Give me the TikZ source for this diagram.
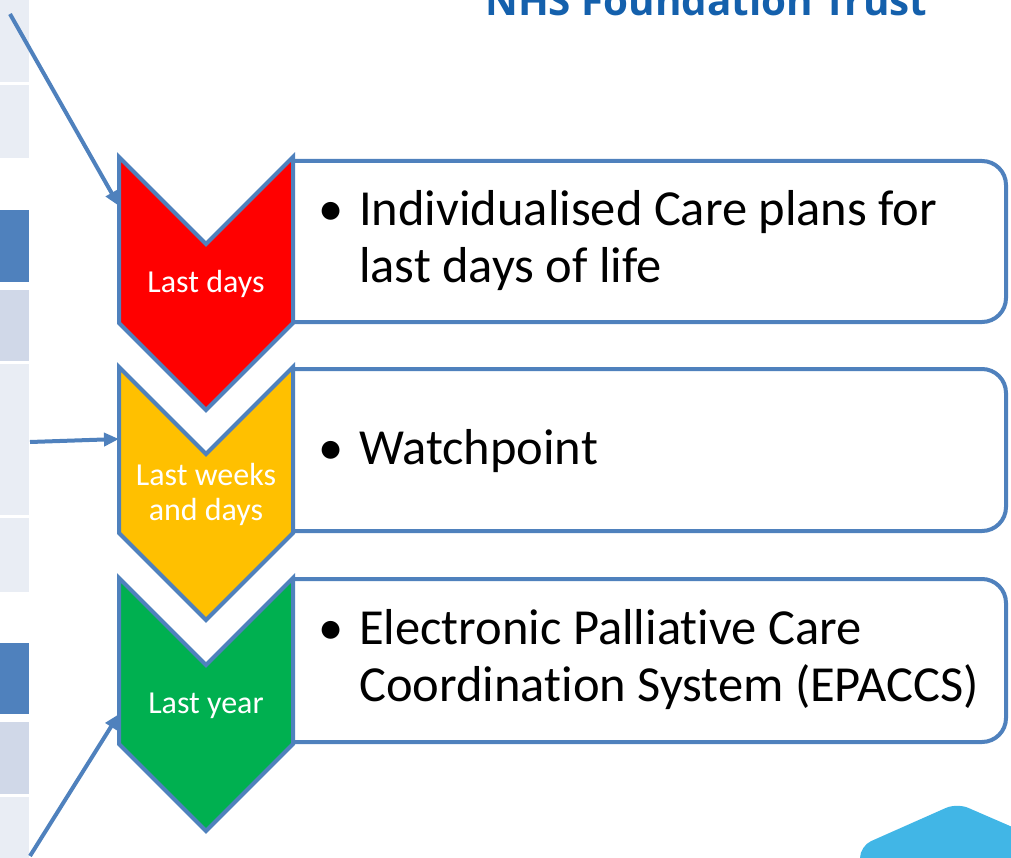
\documentclass[tikz,border=0pt]{standalone}
\usepackage{fontspec}
\setmainfont{Carlito}[Ligatures={NoCommon}]
\newfontfamily\logofont{Open Sans}
\usetikzlibrary{arrows.meta}

\definecolor{edgeblue}{HTML}{4F81BD}
\definecolor{stripdark}{HTML}{4F81BD}
\definecolor{stripmid}{HTML}{D0D8E8}
\definecolor{striplight}{HTML}{E9EDF4}
\definecolor{chevred}{HTML}{FF0000}
\definecolor{chevamber}{HTML}{FFC000}
\definecolor{chevgreen}{HTML}{00B050}
\definecolor{trustblue}{HTML}{1460AC}
\definecolor{cornerblue}{HTML}{41B6E6}

\tikzset{
  chevron/.pic={
    \path[pic actions] (0,0) -- (87,87) -- (174,0) -- (174,166)
      -- (87,253) -- (0,166) -- cycle;
  },
  chevstyle/.style={draw=edgeblue, line width=4pt, line join=miter},
  panel/.style={draw=edgeblue, fill=white, line width=4pt, rounded corners=24pt},
  stagelabel/.style={text=white, font=\fontsize{32}{35}\selectfont, inner sep=0pt},
  itemtext/.style={text=black, font=\fontsize{50.5}{57}\selectfont, inner sep=0pt, anchor=west},
  pointer/.style={draw=edgeblue, line width=4pt,
    -{Triangle[length=15pt,width=13pt]}},
}

\begin{document}
\begin{tikzpicture}[x=1pt,y=-1pt]
\useasboundingbox (0,0) rectangle (1011,858);
\clip (0,0) rectangle (1011,858);

% side strip of table cells
\fill[striplight] (0,0)   rectangle (29,82);
\fill[striplight] (0,85)  rectangle (29,158);
\fill[stripdark]  (0,210) rectangle (29,282);
\fill[stripmid]   (0,290) rectangle (29,361);
\fill[striplight] (0,364) rectangle (29,515);
\fill[striplight] (0,518) rectangle (29,592);
\fill[stripdark]  (0,643) rectangle (29,714);
\fill[stripmid]   (0,722) rectangle (29,794);
\fill[striplight] (0,797) rectangle (29,858);

% trust name at the top
\node[anchor=base west, inner sep=0pt, text=trustblue] (trust) at (485,16)
  {\resizebox{442pt}{!}{\logofont\bfseries NHS Foundation Trust}};

% corner decoration
\fill[cornerblue, rounded corners=12pt] (860,900) -- (860,846) -- (957,803)
  -- (1070,852) -- (1070,900) -- cycle;

% text panels (left edge hidden under the chevrons)
\draw[panel] (293,161) -- (1006,161) -- (1006,322) -- (293,322);
\draw[panel] (293,369) -- (1006,369) -- (1006,531) -- (293,531);
\draw[panel] (293,579) -- (1006,579) -- (1006,742) -- (293,742);

% chevrons
\pic[chevstyle, fill=chevred]   at (119,157) {chevron};
\pic[chevstyle, fill=chevamber] at (119,367) {chevron};
\pic[chevstyle, fill=chevgreen] at (119,578) {chevron};

% stage labels
\node[stagelabel, anchor=base] (daysl) at (206,293) {Last days};
\node[stagelabel] (weeksl) at (206,495.5)
  {\begin{tabular}{@{}c@{}}Last weeks\\and days\end{tabular}};
\node[stagelabel, anchor=base] (yearl) at (206,713) {Last year};

% panel contents
\node[itemtext] (item1) at (318,243)
  {\begin{tabular}{@{}p{41pt}@{}l@{}}•&Individualised Care plans for\\&last days of life\end{tabular}};
\node[itemtext] (item2) at (318,453)
  {\begin{tabular}{@{}p{41pt}@{}l@{}}•&Watchpoint\end{tabular}};
\node[itemtext] (item3) at (318,662)
  {\begin{tabular}{@{}p{41pt}@{}l@{}}•&Electronic Palliative Care\\&Coordination System (EPACCS)\end{tabular}};

% pointers from the table into the chevrons
\coordinate (src1) at (10,14);
\coordinate (src2) at (30,442);
\coordinate (src3) at (30,856);
\coordinate (redin)   at (119,206);
\coordinate (amberin) at (119,439);
\coordinate (greenin) at (119,714);
\draw[pointer] (src1) -- (redin);
\draw[pointer] (src2) -- (amberin);
\draw[pointer] (src3) -- (greenin);
\end{tikzpicture}
\end{document}
